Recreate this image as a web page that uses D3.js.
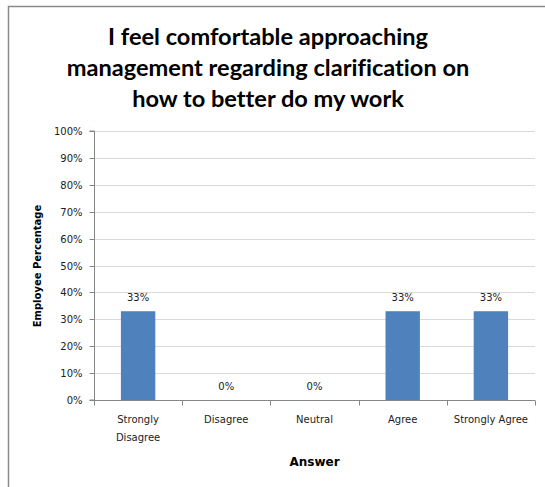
<!DOCTYPE html>
<html>
<head>
<meta charset="utf-8">
<script src="https://cdn.jsdelivr.net/npm/d3@7"></script>
<style>
  html, body { margin: 0; padding: 0; background: #fff; }
  svg { display: block; }
  .title { font-variant-ligatures: none; font-feature-settings: "liga" 0; }
</style>
</head>
<body>
<svg id="chart" width="545" height="487"></svg>
<script>
// Survey answers and share of employees choosing each one (percent)
const categories = ["Strongly Disagree", "Disagree", "Neutral", "Agree", "Strongly Agree"];
const categoryLines = [["Strongly", "Disagree"], ["Disagree"], ["Neutral"], ["Agree"], ["Strongly Agree"]];
const values = [33, 0, 0, 33, 33];
const yTicks = [0, 10, 20, 30, 40, 50, 60, 70, 80, 90, 100];
const titleLines = ["I feel comfortable approaching", "management regarding clarification on", "how to better do my work"];
const xTitle = "Answer";
const yTitle = "Employee Percentage";

const svg = d3.select("#chart");
const W = 545, H = 487;
const margin = { left: 94, right: 10, top: 131, bottom: 87 };
const plotW = W - margin.left - margin.right;
const plotH = H - margin.top - margin.bottom;

// Chart frame
svg.append("path")
  .attr("d", `M8.5,${H} L8.5,6.5 L${W},6.5`)
  .attr("fill", "none")
  .attr("stroke", "#8a8a8a")
  .attr("stroke-width", 1.5);

// Title
svg.append("text")
  .attr("class", "title")
  .attr("x", 268)
  .attr("y", 45)
  .attr("text-anchor", "middle")
  .attr("font-family", "Lato, 'Open Sans', sans-serif")
  .attr("font-weight", "bold")
  .attr("font-size", 23.6)
  .attr("fill", "#000")
  .selectAll("tspan")
  .data(titleLines)
  .join("tspan")
  .attr("x", 268)
  .attr("dy", (d, i) => i === 0 ? 0 : 31)
  .text(d => d);

const g = svg.append("g").attr("transform", `translate(${margin.left},${margin.top})`);

const x = d3.scaleBand().domain(categories).range([0, plotW]).paddingInner(0.61).paddingOuter(0.305);
const xTicks = d3.scaleBand().domain(categories).range([0, plotW]);
const y = d3.scaleLinear().domain([0, 100]).range([plotH, 0]);

// Horizontal gridlines
g.append("g")
  .selectAll("line")
  .data(yTicks.filter(t => t > 0))
  .join("line")
  .attr("x1", 0)
  .attr("x2", plotW)
  .attr("y1", d => Math.round(y(d)) + 0.5)
  .attr("y2", d => Math.round(y(d)) + 0.5)
  .attr("stroke", "#d9d9d9")
  .attr("stroke-width", 1);

// Bars
g.append("g")
  .selectAll("rect")
  .data(values)
  .join("rect")
  .attr("x", (d, i) => x(categories[i]))
  .attr("y", d => y(d))
  .attr("width", x.bandwidth())
  .attr("height", d => plotH - y(d))
  .attr("fill", "#4f81bd");

// Value labels
g.append("g")
  .selectAll("text")
  .data(values)
  .join("text")
  .attr("x", (d, i) => x(categories[i]) + x.bandwidth() / 2)
  .attr("y", d => y(d) - 10)
  .attr("text-anchor", "middle")
  .attr("font-family", "'DejaVu Sans', sans-serif")
  .attr("font-size", 10)
  .attr("fill", "#222")
  .text(d => d + "%");

// Y axis
const yAxis = g.append("g")
  .attr("transform", "translate(0.5,0)")
  .call(d3.axisLeft(y).tickValues(yTicks).tickSize(5).tickPadding(7).tickFormat(d => d + "%"));
yAxis.select(".domain").attr("stroke", "#868686").attr("d", `M-5,${plotH}H0V0H-5`);
yAxis.selectAll(".tick line").attr("stroke", "#868686");
yAxis.selectAll(".tick").attr("transform", d => `translate(0,${Math.round(y(d)) + 0.5})`);
yAxis.selectAll("text")
  .attr("font-family", "'DejaVu Sans', sans-serif")
  .attr("font-size", 10)
  .attr("fill", "#222");

// X axis with ticks at band boundaries
const xAxisG = g.append("g").attr("transform", `translate(0,${plotH + 0.5})`);
xAxisG.append("line")
  .attr("x1", 0).attr("x2", plotW)
  .attr("stroke", "#868686");
const bounds = categories.map(c => xTicks(c)).concat([plotW]);
xAxisG.selectAll("line.tk")
  .data(bounds)
  .join("line")
  .attr("class", "tk")
  .attr("x1", d => Math.round(d) + 0.5)
  .attr("x2", d => Math.round(d) + 0.5)
  .attr("y1", 0)
  .attr("y2", 5)
  .attr("stroke", "#868686");

const xl = xAxisG.selectAll("text.cat")
  .data(categoryLines)
  .join("text")
  .attr("class", "cat")
  .attr("x", (d, i) => xTicks(categories[i]) + xTicks.bandwidth() / 2)
  .attr("y", 22)
  .attr("text-anchor", "middle")
  .attr("font-family", "'DejaVu Sans', sans-serif")
  .attr("font-size", 10)
  .attr("fill", "#222");
xl.selectAll("tspan")
  .data((d, i) => d.map(t => ({ t, i })))
  .join("tspan")
  .attr("x", d => xTicks(categories[d.i]) + xTicks.bandwidth() / 2)
  .attr("dy", (d, j) => j === 0 ? 0 : 18)
  .text(d => d.t);

// Axis titles
svg.append("text")
  .attr("x", margin.left + plotW / 2)
  .attr("y", 466)
  .attr("text-anchor", "middle")
  .attr("font-family", "'DejaVu Sans', sans-serif")
  .attr("font-weight", "bold")
  .attr("font-size", 12)
  .attr("fill", "#000")
  .text(xTitle);

svg.append("text")
  .attr("transform", "translate(41,266) rotate(-90)")
  .attr("text-anchor", "middle")
  .attr("font-family", "'DejaVu Sans', sans-serif")
  .attr("font-weight", "bold")
  .attr("font-size", 10)
  .attr("fill", "#000")
  .text(yTitle);
</script>
</body>
</html>
